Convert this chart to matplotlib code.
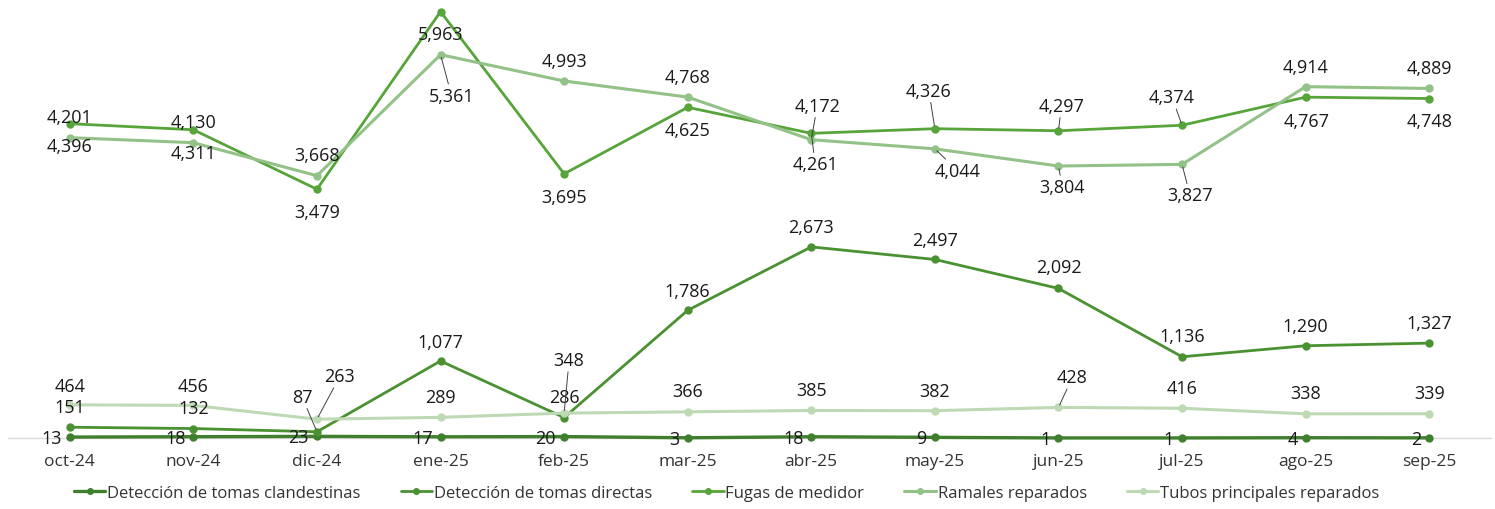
import matplotlib.pyplot as plt

plt.rcParams['font.family'] = ['Open Sans', 'DejaVu Sans']

meses = ["oct-24", "nov-24", "dic-24", "ene-25", "feb-25", "mar-25",
         "abr-25", "may-25", "jun-25", "jul-25", "ago-25", "sep-25"]

clandestinas = [13, 18, 23, 17, 20, 3, 18, 9, 1, 1, 4, 2]
directas = [151, 132, 87, 1077, 286, 1786, 2673, 2497, 2092, 1136, 1290, 1327]
fugas = [4396, 4311, 3479, 5963, 3695, 4625, 4261, 4326, 4297, 4374, 4767, 4748]
ramales = [4201, 4130, 3668, 5361, 4993, 4768, 4172, 4044, 3804, 3827, 4914, 4889]
tubos = [464, 456, 263, 289, 348, 366, 385, 382, 428, 416, 338, 339]

nombres = ["Detección de tomas clandestinas", "Detección de tomas directas",
           "Fugas de medidor", "Ramales reparados", "Tubos principales reparados"]
colores = ["#3f7f2e", "#4a9132", "#56a43a", "#92c287", "#bddab5"]

# label offsets in pixels (dx, dy downwards), leader line flag
off_cland = [(-8, 1)] * 12
off_dir = [(0, -20), (0, -21), (-15, -35), (0, -19), (0, -21), (0, -19),
           (0, -20), (0, -19), (0, -21), (0, -21), (0, -20), (0, -20)]
lead_dir = [0, 0, 1, 0, 0, 0, 0, 0, 0, 0, 0, 0]
off_fug = [(0, 22), (0, 23), (0, 23), (0, 22), (0, 23), (0, 23),
           (4, 31), (-6, -38), (3, -25), (-10, -28), (1, 24), (0, 22)]
lead_fug = [0, 0, 0, 0, 0, 0, 1, 1, 1, 1, 0, 0]
off_ram = [(0, -21), (0, -21), (0, -21), (11, 41), (0, -20), (0, -20),
           (6, -34), (23, 22), (4, 21), (8, 31), (0, -20), (0, -20)]
lead_ram = [0, 0, 0, 1, 0, 0, 1, 1, 1, 1, 0, 0]
off_tub = [(0, -19), (0, -19), (23, -43), (0, -20), (5, -53), (0, -21),
           (0, -20), (0, -20), (14, -30), (0, -20), (0, -21), (0, -21)]
lead_tub = [0, 0, 1, 0, 1, 0, 0, 0, 1, 0, 0, 0]


def etiquetas(ax, vals, offs, leads, ha='center'):
    for i, v in enumerate(vals):
        dx, dy = offs[i]
        arrow = None
        if leads[i]:
            arrow = dict(arrowstyle='-', color='#404040', lw=0.7, shrinkA=0, shrinkB=2)
        ax.annotate(f"{v:,}", (i, v), xytext=(dx, -dy), textcoords='offset pixels',
                    ha=ha, va='center', fontsize=13, color='#1a1a1a',
                    arrowprops=arrow, zorder=5)


fig = plt.figure(figsize=(14.95, 5.10), dpi=100)
ax = fig.add_axes([8 / 1495, 71 / 510, 1483 / 1495, 429 / 510])
x = list(range(len(meses)))

series = [clandestinas, directas, fugas, ramales, tubos]
anchos = [2.4, 2.0, 2.0, 2.2, 2.2]
for vals, nom, col, lw in zip(series, nombres, colores, anchos):
    ax.plot(x, vals, color=col, lw=lw, marker='o', markersize=5, label=nom,
            solid_capstyle='round', clip_on=False, zorder=3)

etiquetas(ax, clandestinas, off_cland, [0] * 12, ha='right')
etiquetas(ax, directas, off_dir, lead_dir)
etiquetas(ax, fugas, off_fug, lead_fug)
etiquetas(ax, ramales, off_ram, lead_ram)
etiquetas(ax, tubos, off_tub, lead_tub)

ax.set_xlim(-0.5, 11.5)
ax.set_ylim(0, 6000)
ax.set_xticks(x)
ax.set_xticklabels(meses, fontsize=12.5, color='#333333')
ax.tick_params(axis='x', length=0, pad=11)
ax.set_yticks([])
for s in ['top', 'right', 'left']:
    ax.spines[s].set_visible(False)
ax.spines['bottom'].set_color('#d9d9d9')
ax.spines['bottom'].set_linewidth(1)
ax.spines['bottom'].set_zorder(1)
ax.patch.set_alpha(0)

fig.legend(loc='center', bbox_to_anchor=(0.486, 0.031), ncol=5, frameon=False,
           fontsize=12, handlelength=1.9, handletextpad=0.1, columnspacing=2.4,
           labelcolor='#333333', markerscale=0.8)

fig.savefig("out.png", dpi=100)
